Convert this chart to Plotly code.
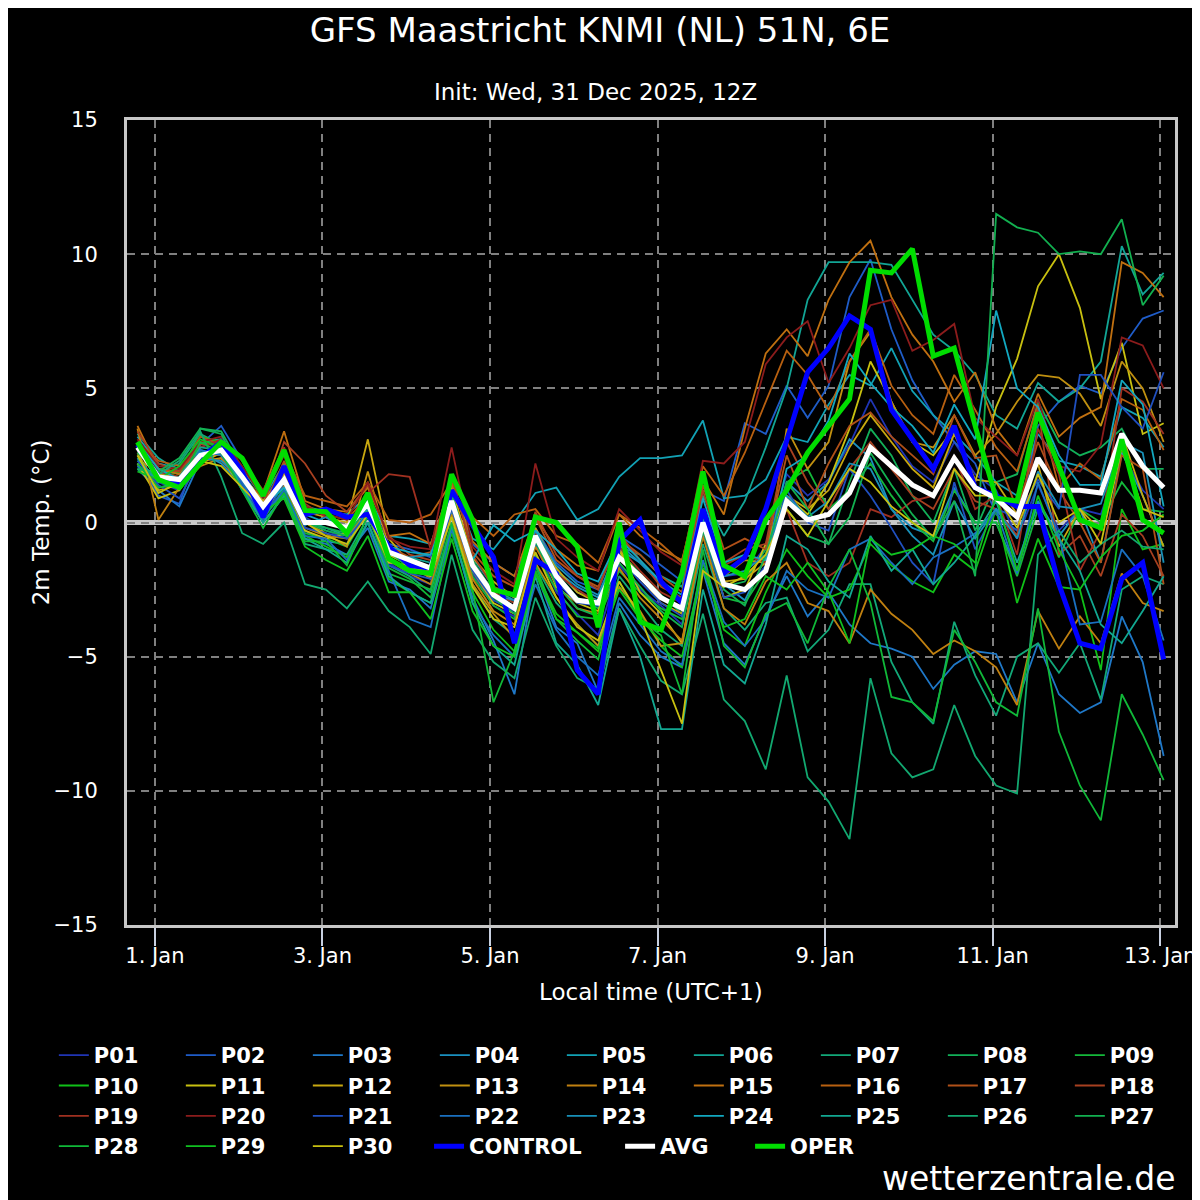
import pandas as pd
import plotly.graph_objects as go

# 6-hourly steps, local time (UTC+1), first step 31 Dec 19:00
times = pd.date_range("2025-12-31 19:00", periods=50, freq="6h")

p01 = [2.4,1.5,1.2,2.8,3.1,1.9,0.4,1.9, 0.2,-0.3,-0.6,0.9,-1.5,-2.0,-2.3,1.2,-1.9,-3.1,-3.5, -0.8,-2.6,-3.4,-4.2,-1.6,-2.5,-3.1,-3.8,0.4,-2.0,-1.9,-0.9, 1.8,1.0,1.6,2.9,4.6,3.2,2.1,1.5,3.0,1.8,1.2,-0.6,1.4,-0.3,0.5,0.3,2.6,1.2,0.5]
p02 = [2.2,1.0,0.7,2.9,3.6,2.3,0.8,2.0, 0.5,0.3,-0.5,1.0,-0.8,-1.0,-1.3,1.5,-0.8,-1.5,-2.0, -0.2,-1.5,-2.2,-2.5,-0.5,-1.0,-1.6,-2.2,1.2,0.8,3.7,3.3, 5.1,3.9,5.1,8.4,9.8,7.2,5.3,4.0,3.0,2.2,0.3,-0.3,3.6,4.5,5.1,4.8,6.5,7.6,7.9]
p03 = [2.0,1.2,0.6,2.3,2.6,1.2,0.0,1.0, -0.6,-0.8,-1.2,-0.2,-2.2,-2.5,-3.2,-0.3,-2.8,-4.4,-6.4, -1.8,-3.9,-4.5,-6.3,-3.0,-4.2,-5.0,-5.4,-1.8,-4.5,-5.3,-3.5, -2.0,-3.5,-2.6,-3.8,-4.5,-4.7,-5.0,-6.2,-5.3,-4.8,-4.9,-6.7,-4.5,-6.4,-7.1,-6.7,-3.5,-5.2,-8.7]
p04 = [2.6,1.8,1.9,2.6,2.2,1.4,0.2,1.2, -0.3,-0.7,-0.8,0.5,-1.3,-1.8,-2.0,0.4,-1.3,-2.4,-2.8, -0.9,-1.8,-2.4,-2.8,-1.0,-1.5,-2.3,-2.9,0.2,-2.3,-2.9,-1.3, 1.5,0.8,1.5,3.1,2.4,0.5,-0.2,-0.5,1.3,0.0,0.0,-1.8,0.8,-0.5,0.5,-1.5,2.6,1.0,-0.9]
p05 = [3.2,2.2,2.0,2.7,2.5,1.6,0.8,1.4, 0.6,0.4,0.3,1.0,-0.5,-0.6,-0.8,1.4,-0.6,-1.0,0.0, 1.1,1.3,0.1,0.5,1.7,2.4,2.4,2.5,3.8,0.9,1.0,1.6, 3.2,3.0,4.4,5.5,5.1,6.5,4.9,4.0,3.3,2.5,1.5,1.0,3.3,2.3,2.1,1.7,4.3,3.9,2.8]
p06 = [3.3,2.4,1.9,3.0,3.1,2.0,0.9,2.2, 0.1,-0.2,-0.5,0.3,-1.0,-1.3,-1.5,0.9,-1.6,-2.5,-2.9, -0.4,-1.8,-2.6,-2.9,-0.9,-1.2,-2.0,-2.4,1.0,-0.5,0.8,2.8, 5.0,8.3,9.7,9.7,9.7,9.6,8.3,7.0,6.4,5.5,4.0,3.5,5.2,4.5,5.0,6.0,10.3,8.5,9.3]
p07 = [2.1,1.8,2.2,3.3,2.9,1.5,0.0,1.0, -0.8,-1.0,-1.2,0.2,-1.6,-2.0,-2.6,0.3,-2.3,-3.6,-4.2, -1.6,-3.0,-3.8,-4.6,-2.0,-3.0,-4.0,-4.6,-0.8,-3.2,-4.0,-3.0, -2.8,-4.8,-4.0,-2.3,-2.3,-5.2,-6.7,-7.5,-3.7,-5.7,-7.2,-5.0,-4.5,-5.6,-4.5,-6.6,-2.5,-2.0,-2.3]
p08 = [2.5,1.3,1.5,3.5,3.4,2.0,0.3,1.6, 0.0,-0.2,-0.4,0.5,-1.2,-1.6,-1.9,1.0,-1.4,-2.6,-3.0, -0.3,-1.9,-2.8,-3.2,-1.1,-1.9,-2.7,-3.4,0.3,-2.4,-2.2,-1.0, 0.5,-0.5,-0.8,1.5,3.5,2.5,1.0,0.0,2.0,-0.3,1.5,1.8,4.5,3.0,2.5,2.8,3.5,2.0,2.0]
p09 = [2.3,2.0,1.8,3.0,2.8,1.5,0.1,1.3, -0.4,-0.6,-0.9,0.4,-1.9,-2.2,-2.5,0.6,-2.0,-3.1,-3.6, -1.2,-2.5,-3.5,-3.6,-1.8,-2.6,-3.2,-3.6,-0.5,-2.8,-3.0,-1.8, 1.5,2.0,0.5,1.2,2.2,1.0,0.0,-0.7,1.2,0.0,0.0,-2.0,0.5,-1.3,0.5,0.0,1.5,0.5,0.4]
p10 = [2.0,1.6,1.9,3.2,3.0,1.8,0.2,1.1, -0.5,-0.9,-1.3,0.0,-2.1,-2.6,-3.0,-0.4,-2.6,-4.0,-4.8, -1.8,-3.4,-4.1,-4.8,-2.4,-3.4,-4.6,-5.4,-1.5,-4.0,-4.6,-2.6, -1.0,-2.0,-2.8,-2.5,-0.8,-1.6,-2.2,-2.6,-1.2,-1.8,0.5,-3.0,-0.6,-2.4,-2.5,-5.5,0.5,-1.0,-0.8]
p11 = [2.2,0.9,1.2,2.3,2.4,1.3,0.2,1.5, -0.3,-0.6,-0.4,0.8,-1.2,-1.6,-1.8,0.5,-1.8,-3.0,-3.4, -0.6,-2.4,-3.0,-3.3,-1.0,-2.6,-3.4,-4.5,-0.2,-2.8,-2.5,-0.8, 1.0,0.3,1.5,3.5,6.0,4.5,3.0,2.5,3.5,1.5,4.3,6.1,8.8,10.0,8.0,4.6,6.7,3.3,3.7]
p12 = [2.6,1.2,1.4,2.2,2.6,1.8,0.8,1.8, 0.4,0.2,0.0,3.1,-0.6,-1.5,-2.0,1.3,-1.3,-2.2,-2.8, -0.2,-1.7,-2.6,-3.0,-1.0,-2.0,-3.0,-3.4,0.5,-2.2,-2.1,-1.5, 1.0,0.5,1.2,2.8,4.0,3.0,2.0,1.3,3.3,1.6,1.5,0.3,2.2,-0.9,0.5,-0.3,3.3,1.0,-0.9]
p13 = [2.9,1.8,1.7,2.6,2.5,1.7,0.6,2.0, 0.0,-0.4,-0.9,1.9,-0.9,-1.5,-2.1,0.9,-2.3,-3.4,-4.3, -1.5,-2.8,-3.8,-4.6,-2.4,-3.3,-4.6,-4.5,-0.4,-2.0,-1.4,-1.5, 3.5,2.0,3.0,6.0,7.1,4.5,3.0,2.8,4.0,2.5,3.3,4.5,5.5,5.4,4.8,3.6,6.0,5.0,3.0]
p14 = [3.5,0.1,1.3,2.1,2.4,1.6,0.5,1.4, -0.2,-0.5,-0.6,0.6,-1.4,-1.9,-2.3,0.3,-2.1,-3.3,-3.8, -0.9,-2.3,-3.2,-3.4,-1.7,-2.8,-3.6,-4.4,-0.5,-3.2,-3.8,-2.2, -1.5,-3.0,-3.3,-4.5,-2.5,-3.4,-4.0,-4.9,-4.4,-4.8,-5.4,-6.8,-3.3,-4.7,-3.5,-4.5,-1.9,-3.0,-3.3]
p15 = [3.6,2.0,1.8,2.5,2.8,2.0,1.1,3.4, 0.8,0.5,0.4,1.3,-0.5,-0.4,-0.8,1.4,-0.7,-1.5,-2.0, 0.2,-1.0,-1.6,-1.8,0.3,-0.5,-1.0,-1.4,1.6,0.3,3.5,6.3, 7.2,6.2,8.3,9.7,10.5,8.4,7.0,6.0,4.5,5.6,3.5,2.5,4.8,3.2,3.9,4.3,9.7,9.3,8.4]
p16 = [3.0,2.3,2.1,2.5,2.3,1.5,1.0,2.6, 1.0,0.8,0.6,1.5,0.1,0.0,0.3,1.5,0.2,-0.5,0.3, 0.5,-0.5,-0.8,-1.5,0.3,-0.2,-0.8,-1.5,2.1,1.0,2.6,4.5, 6.4,5.5,4.2,6.0,7.2,5.1,4.0,3.3,5.5,4.2,2.8,1.9,4.4,1.3,2.2,1.6,4.6,4.2,2.7]
p17 = [2.9,2.0,1.9,3.2,2.9,1.8,0.5,2.3, 0.5,0.3,0.1,1.0,-0.9,-1.3,-1.1,1.7,-1.1,-2.0,-2.4, 0.2,-1.4,-2.0,-2.4,-0.6,-1.2,-2.0,-2.6,1.4,-1.0,-0.6,-1.0, 2.5,0.5,2.2,3.6,4.1,3.2,2.5,1.8,4.0,2.4,2.5,0.5,3.0,1.2,0.0,-1.5,2.5,2.0,-2.3]
p18 = [3.4,2.2,1.9,2.9,3.0,1.9,0.6,3.0, 2.2,1.0,0.4,1.4,-0.5,-1.2,-1.4,1.8,-1.2,-2.4,-2.7, 0.4,-1.2,-2.0,-2.5,-0.4,-1.4,-2.4,-2.8,1.2,-1.5,-1.0,-0.8, 3.0,1.5,0.5,2.0,3.0,2.0,1.0,0.5,2.0,0.8,0.5,-0.5,4.3,-1.2,-0.5,-2.0,0.3,-0.5,-2.0]
p19 = [2.7,1.9,1.7,2.8,3.1,2.3,1.2,2.8, 0.7,0.2,-0.2,1.1,1.8,1.7,-1.0,0.8,-1.5,-2.6,-3.0, -0.4,-1.9,-2.5,-3.0,-0.9,-1.8,-2.6,-3.0,0.5,-1.6,-1.2,-1.5, 0.5,-1.5,-2.0,-1.5,0.5,0.2,0.8,1.0,2.5,0.5,1.0,-1.2,3.5,1.8,-1.8,-0.3,5.0,4.5,3.3]
p20 = [3.1,2.1,2.0,3.0,3.2,2.1,0.9,2.5, 0.6,0.3,0.1,1.5,-0.6,-0.9,-1.0,2.8,-0.9,-1.8,-2.3, 2.2,-0.6,-1.3,-1.8,0.5,-0.3,-1.1,-1.6,2.3,2.2,3.0,5.9, 6.9,7.5,5.2,6.5,8.1,8.3,6.4,6.8,7.4,3.9,3.2,2.5,4.6,2.1,1.9,2.9,6.9,6.6,5.0]
p21 = [2.3,1.4,0.9,2.4,2.8,1.4,0.1,1.5, -0.2,-0.4,-0.6,0.3,-1.6,-1.9,-2.1,0.5,-1.8,-2.9,-3.3, -0.7,-2.2,-3.0,-3.1,-1.3,-2.2,-3.0,-3.5,-0.3,-2.8,-2.6,-1.6, 1.2,0.0,-0.3,2.0,1.0,-0.2,-1.5,-2.3,1.5,-1.0,0.5,0.2,1.6,0.5,5.5,5.5,4.3,3.5,5.6]
p22 = [2.1,1.6,1.3,2.7,2.5,1.5,0.2,1.2, -0.5,-0.6,-1.4,0.0,-1.8,-3.6,-3.9,-0.2,-3.0,-4.2,-5.0, -2.3,-4.0,-5.0,-5.7,-2.8,-3.8,-4.8,-5.3,-1.4,-3.7,-4.6,-3.6, -1.8,-2.5,-2.8,-1.0,-0.6,-1.5,-2.3,-1.3,-0.9,-0.4,0.5,-1.9,1.5,-0.5,-3.8,-3.7,-1.0,-2.0,-4.4]
p23 = [2.7,1.7,1.5,2.4,2.3,1.6,0.4,1.5, -0.1,0.2,-0.3,0.5,-1.2,-1.3,-1.2,0.7,-1.6,-2.7,-2.9, -0.3,-1.6,-2.3,-2.7,-0.8,-1.5,-2.2,-2.9,0.1,-2.0,-1.8,-1.2, 1.0,0.2,0.8,2.2,2.0,0.5,-0.5,-1.2,0.8,-0.6,0.5,-0.6,1.9,0.6,0.5,0.7,3.0,2.6,-1.5]
p24 = [3.0,2.0,1.6,2.6,2.6,1.9,0.6,1.3, 0.3,0.0,-0.2,0.8,-0.9,-1.1,-1.2,1.0,-1.4,-0.1,-0.7, -0.3,-1.0,-1.9,-2.2,-0.6,-1.4,-2.2,-2.7,0.9,-1.5,-1.2,-1.4, 2.0,2.5,3.8,6.3,5.2,4.3,3.6,2.6,4.4,3.1,7.9,5.0,4.3,2.5,1.4,1.4,5.3,4.4,0.6]
p25 = [2.4,1.5,1.7,2.8,2.7,1.3,0.0,1.0, -0.6,-1.0,-1.5,0.0,-2.0,-2.6,-3.0,-0.1,-3.0,-4.6,-5.3, -2.0,-4.5,-5.3,-6.8,-3.2,-5.0,-7.7,-7.7,-2.5,-5.3,-6.0,-3.8, -0.5,-1.0,-2.2,-2.8,-0.5,-1.8,-1.0,-2.3,-1.5,-0.5,0.8,-1.5,0.7,-0.6,-1.8,-3.8,-4.5,-3.3,-2.0]
p26 = [2.0,1.8,2.3,3.4,1.7,-0.4,-0.8,0.0, -2.3,-2.5,-3.2,-2.2,-3.3,-3.9,-4.9,-1.2,-4.0,-5.2,-5.8, -2.8,-4.6,-5.8,-6.2,-3.2,-4.6,-5.9,-6.4,-3.4,-6.6,-7.4,-9.2, -5.7,-9.5,-10.4,-11.8,-5.8,-8.6,-9.5,-9.2,-6.8,-8.7,-9.8,-10.1,-1.2,-0.3,-1.5,-0.8,-0.3,-0.9,-1.0]
p27 = [2.6,1.9,2.4,3.5,3.3,1.7,0.3,1.7, 0.0,-0.3,-0.5,0.6,-1.1,-1.7,-1.9,1.1,-1.5,-2.8,-3.4, -0.7,-2.3,-3.2,-3.5,-1.5,-2.4,-3.3,-3.9,-0.3,-2.5,-3.1,-1.2, 1.5,0.5,-0.8,0.2,2.6,1.4,0.3,-0.6,0.8,-2.0,11.5,11.0,10.8,10.0,10.1,10.0,11.3,8.1,9.2]
p28 = [2.2,1.3,1.4,3.0,2.6,1.2,-0.2,1.1, -0.7,-0.7,-1.6,0.3,-1.7,-2.1,-2.8,0.0,-2.5,-6.7,-4.8, -1.6,-3.6,-4.4,-5.1,-2.2,-3.6,-4.2,-6.4,-1.0,-4.6,-5.4,-3.4, -3.0,-4.5,-2.4,-1.0,-3.0,-6.5,-6.7,-7.4,-4.0,-5.2,-6.7,-7.2,-3.2,-7.8,-9.8,-11.1,-6.4,-7.9,-9.6]
p29 = [1.9,1.6,2.1,3.1,2.8,1.7,0.4,0.9, -0.9,-1.4,-1.8,-0.5,-2.6,-2.6,-3.6,-0.6,-3.3,-4.6,-5.0, -1.9,-3.6,-4.1,-4.7,-2.5,-3.6,-4.4,-5.0,-1.7,-3.9,-3.6,-2.0, -2.5,-1.5,-2.6,-4.5,-0.6,-1.2,-1.0,-0.5,-0.8,-1.5,1.0,-1.8,1.0,-1.0,-2.5,-1.3,-0.5,-0.3,0.3]
p30 = [2.5,1.1,1.5,2.3,2.1,1.3,0.5,1.6, 0.0,-0.5,-0.8,0.3,-1.5,-1.6,-2.0,0.2,-2.4,-3.6,-3.9, -1.1,-2.8,-3.9,-4.4,-2.2,-3.5,-5.5,-7.5,-1.8,-2.4,-2.0,-1.2, 0.5,-0.5,0.8,2.0,1.5,0.6,0.0,-0.5,2.0,1.0,1.0,-0.2,1.8,0.0,0.5,-0.8,2.8,0.5,0.2]

control = [2.9,1.7,1.4,2.4,3.0,1.9,0.2,2.1, 0.3,0.5,0.2,0.3,-0.9,-1.6,-1.7,1.2,-0.1,-1.3,-4.5, -1.4,-1.9,-5.5,-6.4,-0.7,0.1,-2.2,-3.0,0.5,-1.9,-1.3,0.5, 3.0,5.6,6.5,7.7,7.2,4.2,3.1,2.0,3.6,1.3,1.0,0.6,0.6,-2.3,-4.5,-4.7,-2.1,-1.5,-5.1]
avg = [2.8,1.7,1.6,2.5,2.7,1.7,0.6,1.6, 0.0,0.0,-0.2,0.7,-1.1,-1.4,-1.7,0.8,-1.6,-2.7,-3.2, -0.5,-2.0,-2.9,-3.0,-1.3,-2.0,-2.8,-3.2,0.0,-2.3,-2.5,-1.8, 0.8,0.1,0.3,1.1,2.8,2.1,1.4,1.0,2.4,1.3,0.9,0.2,2.4,1.2,1.2,1.1,3.3,2.1,1.3]
oper = [3.0,1.6,1.3,2.2,3.0,2.4,1.0,2.7, 0.45,0.4,-0.4,1.1,-1.35,-1.8,-1.9,1.8,0.1,-2.5,-2.7, 0.2,0.0,-0.9,-3.9,0.0,-3.7,-4.0,-1.9,1.9,-1.6,-2.0,0.1, 1.2,2.6,3.6,4.6,9.4,9.3,10.2,6.2,6.5,3.6,0.9,0.8,4.1,2.1,0.1,-0.2,3.1,0.1,-0.4]

members = [p01, p02, p03, p04, p05, p06, p07, p08, p09, p10,
           p11, p12, p13, p14, p15, p16, p17, p18, p19, p20,
           p21, p22, p23, p24, p25, p26, p27, p28, p29, p30]
member_names = ["P%02d" % (i + 1) for i in range(30)]
member_colors = ["#2035b5", "#1f5cc8", "#1f78c8", "#1a90c0", "#12a2b5", "#12a595", "#12a878", "#12b058", "#14b83a", "#10c018",
                 "#c8c010", "#c8a810", "#c09010", "#c08010", "#c07010", "#b86010", "#b05018", "#a84020", "#a03020", "#8c1c1c",
                 "#2050c0", "#1a70c0", "#1890b8", "#12a8c0", "#12a892", "#12a870", "#12b050", "#10b838", "#10c020", "#c8c010"]

tick_days = ["2026-01-01", "2026-01-03", "2026-01-05", "2026-01-07", "2026-01-09", "2026-01-11", "2026-01-13"]

font = "DejaVu Sans"
grid = "#808080"
frame = "#c8c8c8"

fig = go.Figure()
for name, vals, col in zip(member_names, members, member_colors):
    fig.add_trace(go.Scatter(x=times, y=vals, name=name, mode="lines",
                             line=dict(color=col, width=1.8), legend="legend"))
fig.add_trace(go.Scatter(x=times, y=control, name="CONTROL", mode="lines",
                         line=dict(color="#0000ff", width=5), legend="legend2"))
fig.add_trace(go.Scatter(x=times, y=avg, name="AVG", mode="lines",
                         line=dict(color="#ffffff", width=5), legend="legend3"))
fig.add_trace(go.Scatter(x=times, y=oper, name="OPER", mode="lines",
                         line=dict(color="#00dd00", width=5), legend="legend3"))

# 0 degC line, under the grid
fig.add_shape(type="line", xref="paper", x0=0, x1=1, yref="y", y0=0, y1=0,
              line=dict(color=frame, width=5), layer="below")

# the page body adds ~8px offset, margins are set so the plot lands at 127..1180 / 120..925
leg_font = dict(family=font, size=21, color="white", weight="bold")
fig.update_layout(
    width=1200, height=1200,
    paper_bgcolor="black", plot_bgcolor="black",
    margin=dict(l=119, r=23, t=112, b=283),
    font=dict(family=font, color="white", size=20),
    title=dict(text="GFS Maastricht KNMI (NL) 51N, 6E", x=(600 - 8) / 1200, xanchor="center",
               y=1 - 22 / 1200, yanchor="middle", yref="container",
               font=dict(family=font, size=34, color="white")),
    showlegend=True,
    legend=dict(orientation="h", x=-0.0698, xanchor="left", y=-0.1367, yanchor="top",
                entrywidth=82, entrywidthmode="pixels", font=leg_font,
                bgcolor="rgba(0,0,0,0)", traceorder="normal"),
    legend2=dict(orientation="h", x=0.2882, xanchor="left", y=-0.2498, yanchor="top",
                 font=leg_font, bgcolor="rgba(0,0,0,0)"),
    legend3=dict(orientation="h", x=0.4705, xanchor="left", y=-0.2498, yanchor="top",
                 entrywidth=85, entrywidthmode="pixels", font=leg_font,
                 bgcolor="rgba(0,0,0,0)", traceorder="normal"),
    annotations=[
        dict(text="Init: Wed, 31 Dec 2025, 12Z", xref="paper", yref="paper",
             x=(600 - 127) / 1058, y=(925 - 92) / 805, xanchor="center", yanchor="middle",
             showarrow=False, font=dict(family=font, size=23, color="white")),
        dict(text="2m Temp. (°C)", xref="paper", yref="paper", x=(40 - 127) / 1058, y=0.5,
             xanchor="center", yanchor="middle", textangle=-90, showarrow=False,
             font=dict(family=font, size=23, color="white")),
        dict(text="Local time (UTC+1)", xref="paper", yref="paper", x=0.5, y=(925 - 992) / 805,
             xanchor="center", yanchor="middle", showarrow=False,
             font=dict(family=font, size=23, color="white")),
        dict(text="wetterzentrale.de", xref="paper", yref="paper", x=1.0 + 3 / 1058,
             y=(925 - 1178) / 805, xanchor="right", yanchor="middle", showarrow=False,
             font=dict(family=font, size=33, color="white")),
    ],
)

fig.update_xaxes(type="date", range=["2025-12-31 16:00", "2026-01-13 04:15"],
                 tickvals=tick_days, tickformat="%-d. %b",
                 showgrid=True, gridcolor=grid, gridwidth=2, griddash="8px,6px",
                 showline=True, linecolor=frame, linewidth=3, mirror=True,
                 ticks="outside", ticklen=18, tickwidth=2, tickcolor="#c8d0e0",
                 ticklabelstandoff=-8, zeroline=False,
                 tickfont=dict(family=font, size=21, color="white"))
fig.update_yaxes(range=[-15, 15], tick0=0, dtick=5,
                 showgrid=True, gridcolor=grid, gridwidth=2, griddash="8px,6px",
                 showline=True, linecolor=frame, linewidth=3, mirror=True,
                 ticks="", ticklabelstandoff=22, zeroline=False,
                 tickfont=dict(family=font, size=21, color="white"))

fig.write_html("out.html")
